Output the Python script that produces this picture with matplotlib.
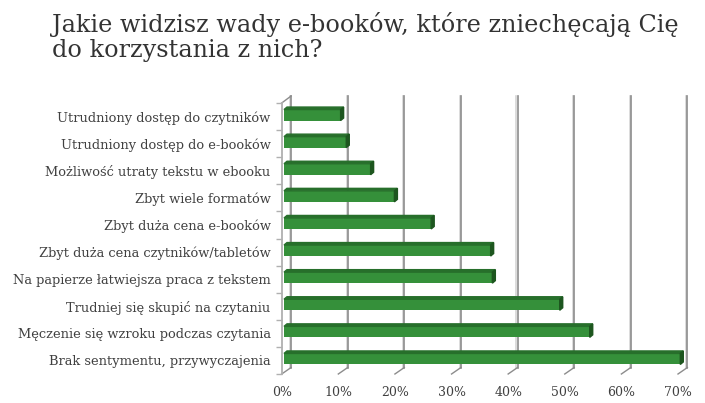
import matplotlib.pyplot as plt
from matplotlib.patches import Polygon

# dane (od góry do dołu)
categories = [
    "Utrudniony dostęp do czytników",
    "Utrudniony dostęp do e-booków",
    "Możliwość utraty tekstu w ebooku",
    "Zbyt wiele formatów",
    "Zbyt duża cena e-booków",
    "Zbyt duża cena czytników/tabletów",
    "Na papierze łatwiejsza praca z tekstem",
    "Trudniej się skupić na czytaniu",
    "Męczenie się wzroku podczas czytania",
    "Brak sentymentu, przywyczajenia",
]
values = [10, 11, 15.3, 19.5, 26, 36.5, 36.8, 48.7, 54, 70]
xticks = [0, 10, 20, 30, 40, 50, 60, 70]
title_lines = ["Jakie widzisz wady e-booków, które zniechęcają Cię",
               "do korzystania z nich?"]

W, H = 705, 403
fig = plt.figure(figsize=(W / 100, H / 100), dpi=100)
plt.rcParams['font.family'] = ['DejaVu Serif']

# front plane of the pseudo-3D plot, in pixels
left_px, right_px, top_px, bottom_px = 281.7, 678.0, 103.0, 374.0
ax = fig.add_axes([left_px / W, 1 - bottom_px / H,
                   (right_px - left_px) / W, (bottom_px - top_px) / H])
n = len(categories)
ax.set_xlim(0, 70)
ax.set_ylim(-0.5, n - 0.5)

sx = 70 / (right_px - left_px)   # data units per pixel
sy = n / (bottom_px - top_px)

txt = '#404040'
grid = '#8c8c8c'

# back wall gridlines + floor diagonals
bdx, bdy = 9.4 * sx, 6.5 * sy
for x in xticks:
    ax.plot([x + bdx - 1.2 * sx] * 2, [-0.5 + bdy, n - 0.5 + 7 * sy],
            color='#d6d6d6', lw=1.2, clip_on=False, zorder=1)
    ax.plot([x + bdx, x + bdx], [-0.5 + bdy, n - 0.5 + 7 * sy], color=grid,
            lw=1.2, clip_on=False, zorder=1)
    ax.plot([x, x + bdx], [-0.5, -0.5 + bdy], color=grid, lw=1.0,
            clip_on=False, zorder=1)
ax.plot([0, bdx], [n - 0.5, n - 0.5 + 7 * sy], color=grid, lw=1.0,
        clip_on=False, zorder=1)

# bars: front face + top + side
ypos = [n - 1 - i for i in range(n)]
h = 11 * sy
ox, oy = 2.3 * sx, 1.5 * sy        # bar sits slightly behind the front
dx, dy = 3.0 * sx, 2.5 * sy        # bar depth
front = '#35903a'
topc = '#276f2b'
side = '#1d561f'
for y, v in zip(ypos, values):
    yc = y + oy
    ax.barh(yc, v, height=h, left=ox, color=front, zorder=3, clip_on=False)
    y0, y1 = yc - h / 2, yc + h / 2
    ax.add_patch(Polygon([(ox, y1), (ox + v, y1), (ox + v + dx, y1 + dy),
                          (ox + dx, y1 + dy)], closed=True, color=topc,
                         zorder=3, clip_on=False))
    ax.add_patch(Polygon([(ox + v, y0), (ox + v + dx, y0 + dy),
                          (ox + v + dx, y1 + dy), (ox + v, y1)], closed=True,
                         color=side, zorder=3, clip_on=False))

for s in ['top', 'right', 'bottom']:
    ax.spines[s].set_visible(False)
ax.spines['left'].set_color('#b0b0b0')
ax.spines['left'].set_linewidth(1.3)

ax.set_yticks(ypos)
ax.set_yticklabels(categories, fontsize=9.4, color=txt)
ax.set_yticks([i - 0.5 for i in range(n + 1)], minor=True)
ax.tick_params(axis='y', which='major', length=0, pad=8)
ax.tick_params(axis='y', which='minor', length=4, color='#b0b0b0', width=1)

ax.set_xticks(xticks)
ax.set_xticklabels([f"{x}%" for x in xticks], fontsize=9, color=txt)
ax.tick_params(axis='x', length=0, pad=9)

for line, base in zip(title_lines, [31.7, 57.3]):
    fig.text(52 / W, 1 - base / H, line, fontsize=17.2, color='#333333',
             va='baseline', ha='left')

fig.savefig('out.png', dpi=100)
